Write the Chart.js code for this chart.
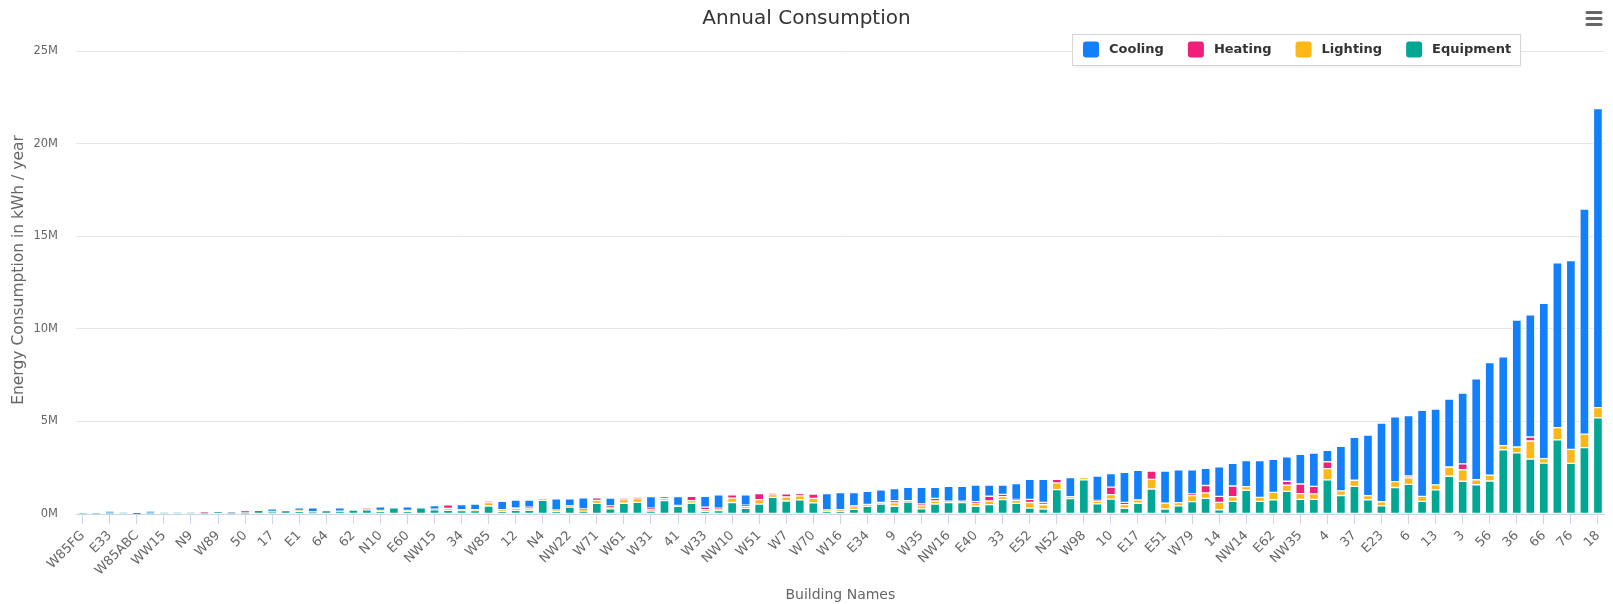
<!DOCTYPE html>
<html>
<head>
<meta charset="utf-8">
<title>Annual Consumption</title>
<script src="https://cdn.jsdelivr.net/npm/chart.js@4.4.1/dist/chart.umd.min.js"></script>
<style>
  html, body { margin: 0; padding: 0; background: #ffffff; }
  #c { display: block; width: 1613px; height: 604px; }
</style>
</head>
<body>
<canvas id="c" width="1613" height="604"></canvas>
<script>
// Building names printed on the axis (every second building carries a label)
const buildingLabels = [
  'W85FG', 'E33', 'W85ABC', 'WW15', 'N9', 'W89', '50', '17', 'E1', '64',
  '62', 'N10', 'E60', 'NW15', '34', 'W85', '12', 'N4', 'NW22', 'W71',
  'W61', 'W31', '41', 'W33', 'NW10', 'W51', 'W7', 'W70', 'W16', 'E34',
  '9', 'W35', 'NW16', 'E40', '33', 'E52', 'N52', 'W98', '10', 'E17',
  'E51', 'W79', '14', 'NW14', 'E62', 'NW35', '4', '37', 'E23', '6',
  '13', '3', '56', '36', '66', '76', '18'
];

// Annual consumption per building, millions of kWh
const cooling = [
  0, 0, 0.1, 0, 0, 0.1, 0, 0, 0, 0,
  0, 0, 0, 0, 0.14, 0, 0.14, 0.2, 0, 0.18,
  0, 0, 0.2, 0, 0.2, 0, 0.2, 0, 0.28, 0.29,
  0, 0.45, 0.42, 0.38, 0, 0.58, 0.38, 0.6, 0, 0.42,
  0, 0, 0.62, 0, 0.48, 0, 0.58, 0.72, 0, 0.55,
  0, 0, 0, 0, 0, 0.88, 0.92, 0.7, 0.7, 0.68,
  0.65, 0.72, 0.9, 0.6, 0.8, 0.8, 0.9, 0.6, 0.5, 0.85,
  1.08, 1.25, 0, 1.03, 0, 1.32, 0.73, 1.62, 1.6, 0,
  1.73, 1.78, 1.3, 0.92, 1.6, 1.22, 1.4, 1.98, 1.78, 1.32,
  1.6, 1.8, 0.62, 2.4, 2.32, 3.27, 4.25, 3.5, 3.27, 4.65,
  4.1, 3.67, 3.82, 5.45, 6.08, 4.8, 6.85, 6.6, 8.38, 8.9,
  10.2, 12.15, 16.15
];
const heating = [
  0, 0, 0, 0, 0.03, 0, 0, 0, 0, 0.02,
  0, 0.02, 0.12, 0, 0, 0, 0, 0, 0, 0,
  0, 0.02, 0, 0, 0, 0, 0, 0.2, 0, 0,
  0.08, 0, 0.03, 0.08, 0, 0.04, 0, 0.04, 0.13, 0.06,
  0.05, 0.05, 0.06, 0.1, 0, 0.23, 0.13, 0.05, 0.17, 0.06,
  0.32, 0.05, 0.17, 0.12, 0.24, 0, 0, 0.05, 0, 0,
  0.12, 0, 0.1, 0.14, 0, 0, 0.07, 0.26, 0.12, 0.05,
  0.17, 0.12, 0.19, 0, 0, 0.05, 0.4, 0.12, 0, 0.45,
  0, 0, 0.09, 0.4, 0.32, 0.58, 0, 0, 0, 0.22,
  0.52, 0.4, 0.37, 0, 0, 0, 0, 0, 0.1, 0,
  0, 0, 0.32, 0, 0, 0, 0, 0.22, 0, 0,
  0, 0, 0
];
const lighting = [
  0, 0, 0, 0, 0, 0, 0, 0, 0, 0,
  0, 0, 0, 0, 0.04, 0, 0.05, 0.03, 0, 0.03,
  0, 0.07, 0.04, 0, 0.06, 0, 0.04, 0.1, 0.05, 0.06,
  0.18, 0.12, 0.1, 0.09, 0.08, 0.06, 0.07, 0.07, 0.17, 0.1,
  0.2, 0.2, 0.1, 0.12, 0.05, 0.14, 0.1, 0.08, 0.24, 0.12,
  0.25, 0.15, 0.22, 0.22, 0.24, 0.1, 0.1, 0.15, 0.1, 0.1,
  0.18, 0.08, 0.16, 0.16, 0.07, 0.07, 0.17, 0.19, 0.16, 0.17,
  0.3, 0.23, 0.36, 0.1, 0.12, 0.13, 0.25, 0.2, 0.18, 0.52,
  0.32, 0.17, 0.33, 0.3, 0.41, 0.25, 0.2, 0.22, 0.4, 0.33,
  0.31, 0.3, 0.61, 0.25, 0.33, 0.22, 0.22, 0.32, 0.35, 0.27,
  0.27, 0.5, 0.62, 0.27, 0.32, 0.22, 0.32, 0.97, 0.24, 0.66,
  0.76, 0.73, 0.55
];
const equipment = [
  0.03, 0.03, 0.05, 0.08, 0.02, 0.05, 0.08, 0.08, 0.08, 0.06,
  0.13, 0.07, 0.06, 0.2, 0.1, 0.19, 0.14, 0.1, 0.19, 0.12,
  0.21, 0.22, 0.15, 0.33, 0.13, 0.33, 0.22, 0.2, 0.18, 0.18,
  0.43, 0.12, 0.2, 0.2, 0.74, 0.14, 0.37, 0.16, 0.57, 0.28,
  0.58, 0.63, 0.16, 0.73, 0.41, 0.58, 0.14, 0.18, 0.62, 0.3,
  0.53, 0.9, 0.7, 0.76, 0.6, 0.12, 0.13, 0.25, 0.42, 0.53,
  0.42, 0.64, 0.28, 0.54, 0.62, 0.62, 0.42, 0.51, 0.78, 0.57,
  0.32, 0.27, 1.32, 0.83, 1.84, 0.55, 0.8, 0.31, 0.58, 1.35,
  0.27, 0.44, 0.67, 0.84, 0.22, 0.68, 1.28, 0.68, 0.77, 1.22,
  0.79, 0.79, 1.84, 1.0, 1.49, 0.77, 0.44, 1.43, 1.6, 0.68,
  1.3, 2.04, 1.77, 1.58, 1.78, 3.47, 3.3, 2.97, 2.75, 4.0,
  2.73, 3.58, 5.19
];

// Value axis ticks, millions of kWh
const yTicks = [0, 5, 10, 15, 20, 25];

// One category per building; only every second one has a printed name
const categories = cooling.map((_, i) => (i % 2 === 0 ? buildingLabels[i / 2] : ''));

const FONT = "'DejaVu Sans', 'Liberation Sans', sans-serif";
Chart.defaults.font.family = FONT;

// Stacked bottom-to-top: Equipment, Lighting, Heating, Cooling
const series = [
  { label: 'Equipment', data: equipment, color: '#02a794' },
  { label: 'Lighting',  data: lighting,  color: '#fdb717' },
  { label: 'Heating',   data: heating,   color: '#ef1f7a' },
  { label: 'Cooling',   data: cooling,   color: '#127ffb' }
];

// Title, value-axis caption, floating legend and menu glyph
const chromePlugin = {
  id: 'chrome',
  afterDraw(chart) {
    const ctx = chart.ctx;
    ctx.save();

    ctx.fillStyle = '#333333';
    ctx.font = `20px ${FONT}`;
    ctx.textAlign = 'center';
    ctx.textBaseline = 'middle';
    ctx.fillText('Annual Consumption', chart.width / 2, 19);

    // value-axis caption
    ctx.save();
    ctx.translate(19, 270);
    ctx.rotate(-Math.PI / 2);
    ctx.fillStyle = '#666666';
    ctx.font = `15.5px ${FONT}`;
    ctx.fillText('Energy Consumption in kWh / year', 0, 0);
    ctx.restore();

    // legend frame
    const bx = 1072.5, by = 34.5, bw = 448, bh = 31;
    ctx.shadowColor = 'rgba(0,0,0,0.10)';
    ctx.shadowBlur = 3;
    ctx.shadowOffsetY = 1;
    ctx.fillStyle = '#ffffff';
    ctx.fillRect(bx, by, bw, bh);
    ctx.shadowColor = 'rgba(0,0,0,0)';
    ctx.strokeStyle = '#d6d6d6';
    ctx.lineWidth = 1;
    ctx.strokeRect(bx, by, bw, bh);

    ctx.font = `bold 13px ${FONT}`;
    ctx.textAlign = 'left';
    let x = 1083;
    chart.data.datasets.slice().reverse().forEach(ds => {
      ctx.fillStyle = ds.backgroundColor;
      ctx.beginPath();
      ctx.roundRect(x, 41.5, 16, 16, 3);
      ctx.fill();
      ctx.fillStyle = '#333333';
      ctx.fillText(ds.label, x + 26, 50);
      x += 26 + ctx.measureText(ds.label).width + 24;
    });

    // context menu glyph
    ctx.strokeStyle = '#666666';
    ctx.lineWidth = 3;
    ctx.lineCap = 'round';
    [12.5, 18.5, 24.5].forEach(y => {
      ctx.beginPath();
      ctx.moveTo(1587, y);
      ctx.lineTo(1601, y);
      ctx.stroke();
    });
    ctx.restore();
  }
};

new Chart(document.getElementById('c'), {
  type: 'bar',
  data: {
    labels: categories,
    datasets: series.map(s => ({
      label: s.label,
      data: s.data,
      backgroundColor: s.color,
      borderColor: '#ffffff',
      borderWidth: 1,
      borderSkipped: false,
      barThickness: 9
    }))
  },
  options: {
    responsive: false,
    devicePixelRatio: 1,
    animation: false,
    layout: { padding: { top: 51, right: 4, left: 0, bottom: 0 } },
    plugins: {
      legend: { display: false },
      title: { display: false },
      tooltip: { enabled: false }
    },
    scales: {
      x: {
        stacked: true,
        offset: true,
        grid: {
          offset: false,
          drawOnChartArea: false,
          drawTicks: true,
          tickLength: 10,
          tickColor: c => (c.index % 2 === 0 ? '#ccd6eb' : 'rgba(0,0,0,0)')
        },
        border: { display: true, color: '#ccd6eb', width: 1 },
        ticks: {
          autoSkip: false,
          minRotation: 45,
          maxRotation: 45,
          padding: 4,
          color: '#666666',
          font: { size: 13 }
        },
        title: {
          display: true,
          text: 'Building Names',
          color: '#666666',
          font: { size: 14 },
          padding: { top: 0, bottom: 0 }
        },
        afterFit(scale) { scale.height = 90; }
      },
      y: {
        stacked: true,
        min: yTicks[0],
        max: yTicks[yTicks.length - 1],
        afterBuildTicks(scale) { scale.ticks = yTicks.map(v => ({ value: v })); },
        grid: { color: '#e6e6e6', drawTicks: false },
        border: { display: false },
        ticks: {
          padding: 18,
          color: '#666666',
          font: { size: 11.5 },
          callback: v => v + 'M'
        },
        title: { display: false },
        afterFit(scale) { scale.width = 76; }
      }
    }
  },
  plugins: [chromePlugin]
});
</script>
</body>
</html>
